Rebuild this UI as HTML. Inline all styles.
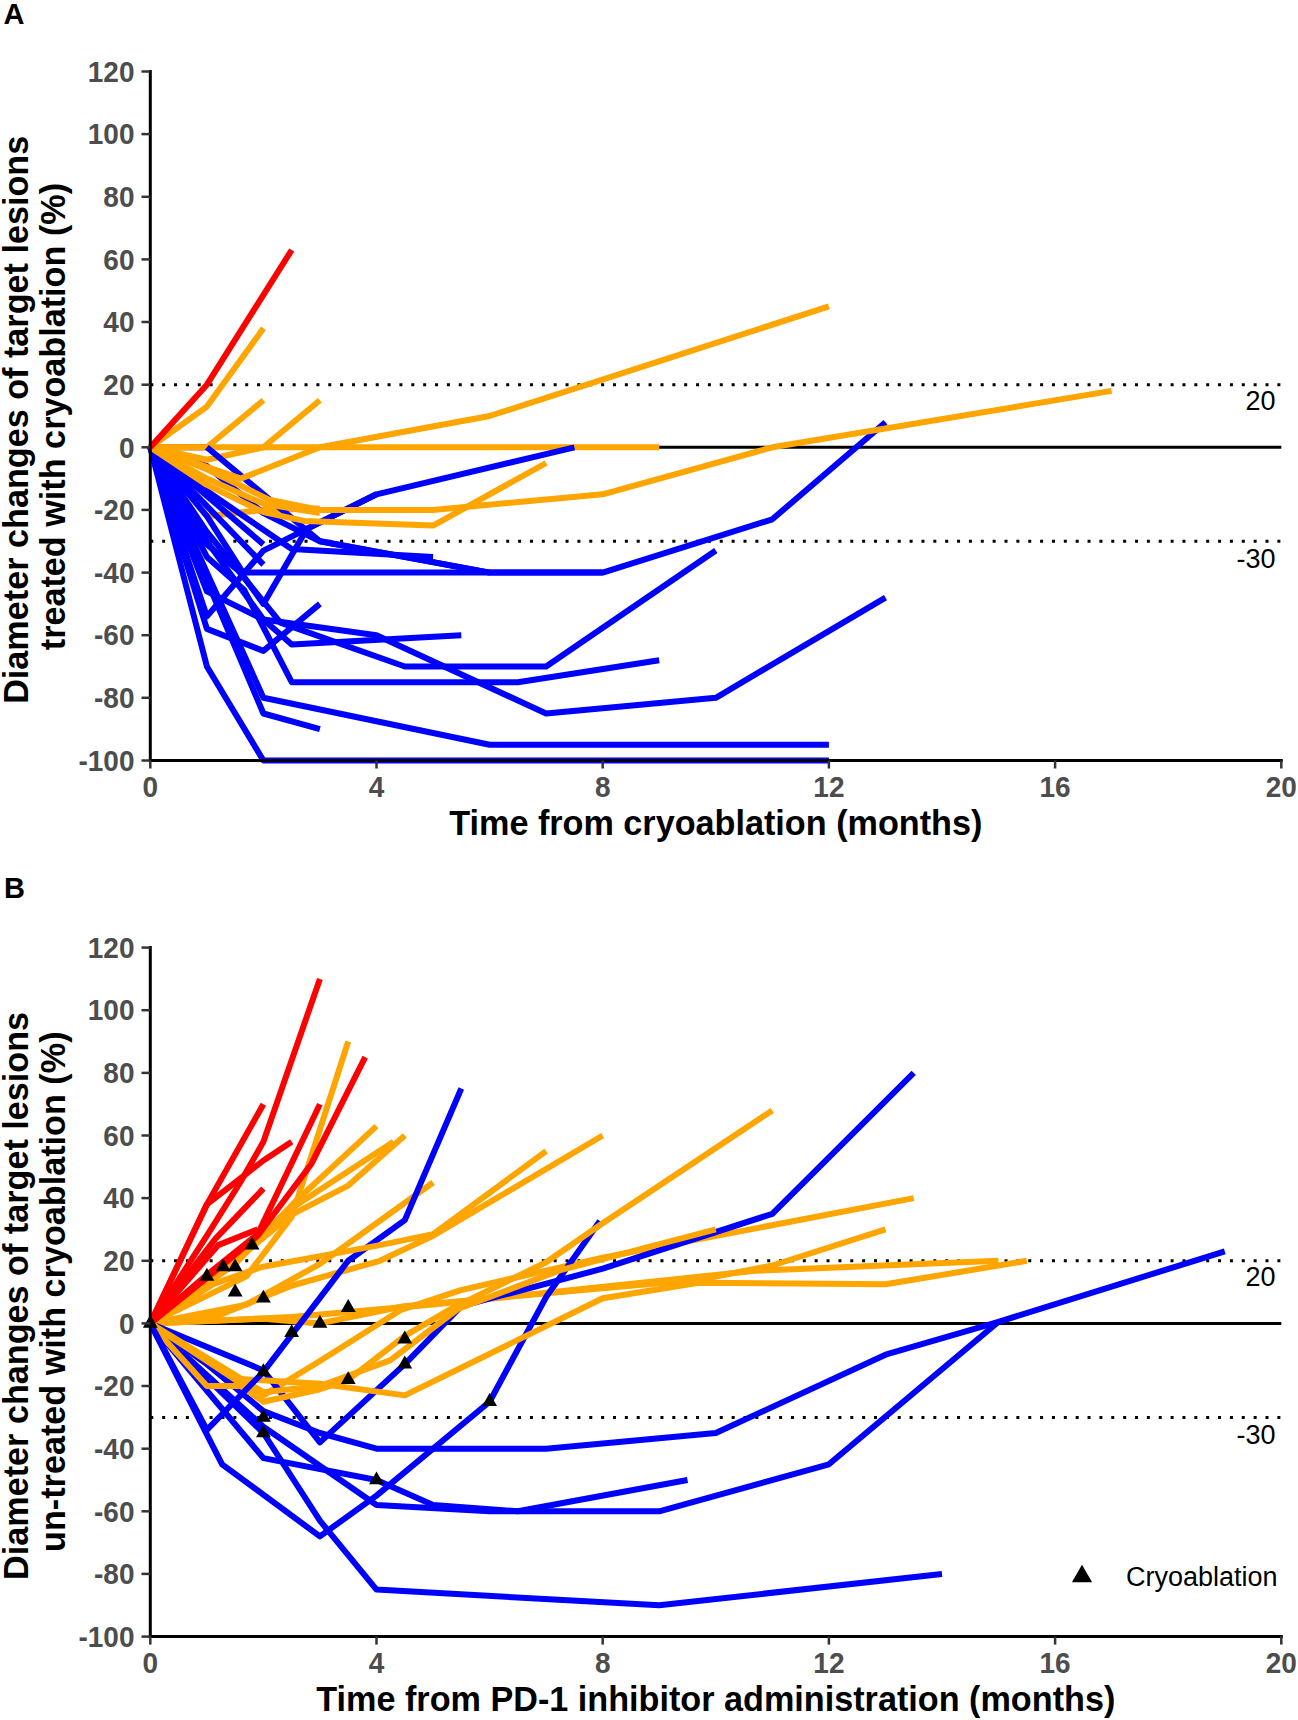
<!DOCTYPE html>
<html><head><meta charset="utf-8"><style>
html,body{margin:0;padding:0;background:#fff;}
svg{display:block;}
text{font-family:"Liberation Sans",sans-serif;}
.tk{font-size:28px;font-weight:bold;fill:#4D4D4D;}
.rl{font-size:27px;fill:#000;}
.ti{font-size:34.2px;font-weight:bold;fill:#000;}
.pl{font-size:29px;font-weight:bold;fill:#000;}
#d path.tr{fill:#000;stroke:none;}
#d path:not(.tr){fill:none;stroke-width:6.0;stroke-linecap:butt;stroke-linejoin:round;}
</style></head><body>
<svg width="1298" height="1720" viewBox="0 0 1298 1720">
<rect width="1298" height="1720" fill="#fff"/>
<g id="d">
<text x="3.5" y="24.2" class="pl">A</text>
<text x="4" y="897.8" class="pl">B</text>
<line x1="150.3" y1="447.3" x2="1281.3" y2="447.3" stroke="#000" stroke-width="3"/>
<line x1="150.3" y1="384.7" x2="1281.3" y2="384.7" stroke="#000" stroke-width="3" stroke-dasharray="3 8.864"/>
<line x1="150.3" y1="541.3" x2="1281.3" y2="541.3" stroke="#000" stroke-width="3" stroke-dasharray="3 8.864"/>
<path d="M150.3 447.3 L206.9 447.3" stroke="#0000FF"/>
<path d="M150.3 447.3 L659.2 447.3" stroke="#FFA500"/>
<path d="M150.3 447.3 L206.9 406.6 L263.4 328.3" stroke="#FFA500"/>
<path d="M150.3 447.3 L206.9 447.3 L263.4 400.3" stroke="#FFA500"/>
<path d="M150.3 447.3 L206.9 516.2 L263.4 509.9 L319.9 508.4" stroke="#FFA500"/>
<path d="M150.3 447.3 L206.9 466.1 L263.4 513.1 L319.9 541.3 L489.6 572.6" stroke="#0000FF"/>
<path d="M150.3 447.3 L206.9 459.8 L263.4 447.3 L319.9 400.3" stroke="#FFA500"/>
<path d="M206.9 447.3 L319.9 541.3 L489.6 572.6 L602.7 572.6" stroke="#0000FF"/>
<path d="M150.3 447.3 L206.9 666.5 L263.4 760.5 L828.9 760.5" stroke="#0000FF"/>
<path d="M150.3 447.3 L263.4 697.8 L489.6 744.8 L828.9 744.8" stroke="#0000FF"/>
<path d="M150.3 447.3 L263.4 713.5 L319.9 729.2" stroke="#0000FF"/>
<path d="M150.3 447.3 L206.9 628.9 L263.4 650.9 L319.9 603.9" stroke="#0000FF"/>
<path d="M150.3 447.3 L206.9 616.4 L263.4 550.6 L376.5 494.3 L574.4 447.3" stroke="#0000FF"/>
<path d="M150.3 447.3 L206.9 544.4 L240.8 572.6 L263.4 603.9 L306.9 528.7 L376.5 494.3" stroke="#0000FF"/>
<path d="M150.3 447.3 L206.9 516.2 L243.0 572.6 L602.7 572.6 L772.3 519.3 L885.5 422.2" stroke="#0000FF"/>
<path d="M150.3 447.3 L206.9 491.1 L291.7 549.1 L433.1 556.9" stroke="#0000FF"/>
<path d="M150.3 447.3 L263.4 544.4" stroke="#0000FF"/>
<path d="M150.3 447.3 L263.4 564.7" stroke="#0000FF"/>
<path d="M150.3 447.3 L206.9 591.4 L263.4 619.5 L376.5 635.2 L546.1 713.5 L715.8 697.8 L885.5 597.6" stroke="#0000FF"/>
<path d="M150.3 447.3 L206.9 531.9 L280.4 622.7 L404.8 666.5 L546.1 666.5 L715.8 550.6" stroke="#0000FF"/>
<path d="M150.3 447.3 L206.9 541.3 L263.4 619.5 L291.7 644.6 L461.3 635.2" stroke="#0000FF"/>
<path d="M150.3 447.3 L206.9 556.9 L244.2 590.1 L291.7 682.2 L517.9 682.2 L659.2 660.3" stroke="#0000FF"/>
<path d="M150.3 447.3 L240.8 478.6 L319.9 447.3 L489.6 416.0 L828.9 306.4" stroke="#FFA500"/>
<path d="M150.3 447.3 L206.9 469.2 L269.1 499.6 L319.9 509.9 L433.1 509.9 L602.7 494.3 L772.3 447.3 L1111.6 390.9" stroke="#FFA500"/>
<path d="M150.3 447.3 L206.9 478.6 L263.4 503.7 L319.9 513.1" stroke="#FFA500"/>
<path d="M150.3 447.3 L206.9 484.9 L263.4 512.1 L304.1 520.9 L433.1 525.6 L546.1 463.0" stroke="#FFA500"/>
<path d="M150.3 447.3 L206.9 384.7 L291.7 250.0" stroke="#FF0000"/>
<line x1="150.3" y1="70.0" x2="150.3" y2="762.0" stroke="#000" stroke-width="3"/>
<line x1="148.8" y1="760.5" x2="1282.8" y2="760.5" stroke="#000" stroke-width="3"/>
<line x1="141.5" y1="760.5" x2="150.3" y2="760.5" stroke="#333" stroke-width="2.5"/>
<text transform="translate(134.5 770.7) scale(1 1.05)" class="tk" text-anchor="end">-100</text>
<line x1="141.5" y1="697.8" x2="150.3" y2="697.8" stroke="#333" stroke-width="2.5"/>
<text transform="translate(134.5 708.0) scale(1 1.05)" class="tk" text-anchor="end">-80</text>
<line x1="141.5" y1="635.2" x2="150.3" y2="635.2" stroke="#333" stroke-width="2.5"/>
<text transform="translate(134.5 645.4) scale(1 1.05)" class="tk" text-anchor="end">-60</text>
<line x1="141.5" y1="572.6" x2="150.3" y2="572.6" stroke="#333" stroke-width="2.5"/>
<text transform="translate(134.5 582.8) scale(1 1.05)" class="tk" text-anchor="end">-40</text>
<line x1="141.5" y1="509.9" x2="150.3" y2="509.9" stroke="#333" stroke-width="2.5"/>
<text transform="translate(134.5 520.1) scale(1 1.05)" class="tk" text-anchor="end">-20</text>
<line x1="141.5" y1="447.3" x2="150.3" y2="447.3" stroke="#333" stroke-width="2.5"/>
<text transform="translate(134.5 457.5) scale(1 1.05)" class="tk" text-anchor="end">0</text>
<line x1="141.5" y1="384.7" x2="150.3" y2="384.7" stroke="#333" stroke-width="2.5"/>
<text transform="translate(134.5 394.9) scale(1 1.05)" class="tk" text-anchor="end">20</text>
<line x1="141.5" y1="322.0" x2="150.3" y2="322.0" stroke="#333" stroke-width="2.5"/>
<text transform="translate(134.5 332.2) scale(1 1.05)" class="tk" text-anchor="end">40</text>
<line x1="141.5" y1="259.4" x2="150.3" y2="259.4" stroke="#333" stroke-width="2.5"/>
<text transform="translate(134.5 269.6) scale(1 1.05)" class="tk" text-anchor="end">60</text>
<line x1="141.5" y1="196.8" x2="150.3" y2="196.8" stroke="#333" stroke-width="2.5"/>
<text transform="translate(134.5 207.0) scale(1 1.05)" class="tk" text-anchor="end">80</text>
<line x1="141.5" y1="134.1" x2="150.3" y2="134.1" stroke="#333" stroke-width="2.5"/>
<text transform="translate(134.5 144.3) scale(1 1.05)" class="tk" text-anchor="end">100</text>
<line x1="141.5" y1="71.5" x2="150.3" y2="71.5" stroke="#333" stroke-width="2.5"/>
<text transform="translate(134.5 81.7) scale(1 1.05)" class="tk" text-anchor="end">120</text>
<line x1="150.3" y1="760.5" x2="150.3" y2="768.5" stroke="#333" stroke-width="2.5"/>
<text transform="translate(150.3 796.5) scale(1 1.05)" class="tk" text-anchor="middle">0</text>
<line x1="376.5" y1="760.5" x2="376.5" y2="768.5" stroke="#333" stroke-width="2.5"/>
<text transform="translate(376.5 796.5) scale(1 1.05)" class="tk" text-anchor="middle">4</text>
<line x1="602.7" y1="760.5" x2="602.7" y2="768.5" stroke="#333" stroke-width="2.5"/>
<text transform="translate(602.7 796.5) scale(1 1.05)" class="tk" text-anchor="middle">8</text>
<line x1="828.9" y1="760.5" x2="828.9" y2="768.5" stroke="#333" stroke-width="2.5"/>
<text transform="translate(828.9 796.5) scale(1 1.05)" class="tk" text-anchor="middle">12</text>
<line x1="1055.1" y1="760.5" x2="1055.1" y2="768.5" stroke="#333" stroke-width="2.5"/>
<text transform="translate(1055.1 796.5) scale(1 1.05)" class="tk" text-anchor="middle">16</text>
<line x1="1281.3" y1="760.5" x2="1281.3" y2="768.5" stroke="#333" stroke-width="2.5"/>
<text transform="translate(1281.3 796.5) scale(1 1.05)" class="tk" text-anchor="middle">20</text>
<text x="1275.5" y="409.9" class="rl" text-anchor="end">20</text>
<text x="1275.5" y="567.5" class="rl" text-anchor="end">-30</text>
<text x="715.8" y="835.1" class="ti" text-anchor="middle">Time from cryoablation (months)</text>
<text transform="translate(28 419.8) rotate(-90)" class="ti" text-anchor="middle">Diameter changes of target lesions</text>
<text transform="translate(65 416.6) rotate(-90)" class="ti" text-anchor="middle">treated with cryoablation (%)</text>
<line x1="150.3" y1="1323.4" x2="1281.3" y2="1323.4" stroke="#000" stroke-width="3"/>
<line x1="150.3" y1="1260.8" x2="1281.3" y2="1260.8" stroke="#000" stroke-width="3" stroke-dasharray="3 8.864"/>
<line x1="150.3" y1="1417.4" x2="1281.3" y2="1417.4" stroke="#000" stroke-width="3" stroke-dasharray="3 8.864"/>
<path d="M150.3 1323.4 L219.9 1314.9 L292.2 1285.5 L379.9 1260.8 L433.1 1235.7 L602.7 1135.5" stroke="#FFA500"/>
<path d="M150.3 1323.4 L263.4 1318.7 L319.9 1323.4 L403.6 1306.2 L700.0 1279.6 L772.3 1265.5 L885.5 1229.4" stroke="#FFA500"/>
<path d="M150.3 1323.4 L223.8 1376.6 L263.4 1395.4 L319.9 1361.0 L400.3 1310.2 L460.8 1290.2 L602.7 1257.6 L913.7 1198.1" stroke="#FFA500"/>
<path d="M150.3 1323.4 L291.7 1317.1 L433.1 1304.6 L755.4 1270.8 L998.5 1260.8" stroke="#FFA500"/>
<path d="M150.3 1323.4 L246.4 1304.6 L319.9 1263.9 L433.1 1182.5" stroke="#FFA500"/>
<path d="M150.3 1323.4 L222.1 1464.3 L319.9 1536.4 L376.5 1495.6 L489.6 1401.7 L546.1 1297.1 L599.9 1221.0" stroke="#0000FF"/>
<path d="M150.3 1323.4 L263.4 1370.4 L319.9 1442.4 L404.8 1364.1 L461.3 1306.2 L602.7 1268.6 L772.3 1213.8 L913.7 1072.9" stroke="#0000FF"/>
<path d="M150.3 1323.4 L206.9 1364.1 L263.4 1411.1 L319.9 1433.0 L376.5 1448.7 L546.1 1448.7 L715.8 1433.0 L885.5 1354.7 L998.5 1321.8 L1224.8 1251.4" stroke="#0000FF"/>
<path d="M150.3 1323.4 L263.4 1458.1 L376.5 1480.0 L433.1 1505.0 L517.9 1511.3 L687.5 1480.0" stroke="#0000FF"/>
<path d="M150.3 1323.4 L263.4 1426.7 L376.5 1505.0 L489.6 1511.3 L659.2 1511.3 L828.9 1464.3 L998.5 1321.8" stroke="#0000FF"/>
<path d="M150.3 1323.4 L263.4 1433.0 L319.9 1520.7 L376.5 1589.6 L659.2 1605.3 L942.0 1573.9" stroke="#0000FF"/>
<path d="M150.3 1323.4 L233.4 1378.5 L319.9 1383.8 L404.8 1395.4 L602.7 1298.3 L698.8 1282.7 L885.5 1284.3 L1026.8 1260.8" stroke="#FFA500"/>
<path d="M150.3 1323.4 L206.9 1386.0 L240.8 1386.0 L263.4 1401.7 L319.9 1389.2 L348.2 1379.8 L404.8 1335.9 L452.3 1308.1 L546.1 1262.3 L602.7 1223.2 L772.3 1110.4" stroke="#FFA500"/>
<path d="M150.3 1323.4 L263.4 1392.3 L319.9 1386.0 L390.1 1360.4 L457.9 1309.0 L560.3 1270.2 L715.8 1229.4" stroke="#FFA500"/>
<path d="M150.3 1323.4 L206.9 1429.9 L263.4 1371.9 L348.2 1260.8 L404.8 1220.1 L461.3 1088.5" stroke="#0000FF"/>
<path d="M150.3 1323.4 L213.6 1283.9 L261.7 1267.0 L379.9 1245.1 L433.1 1234.1 L546.1 1151.2" stroke="#FFA500"/>
<path d="M150.3 1323.4 L235.1 1260.8 L297.3 1204.4 L393.5 1141.8" stroke="#FFA500"/>
<path d="M150.3 1323.4 L235.1 1260.8 L291.7 1214.7 L348.2 1185.6 L404.8 1135.5" stroke="#FFA500"/>
<path d="M150.3 1323.4 L235.1 1263.9 L295.6 1201.3 L376.5 1126.1" stroke="#FFA500"/>
<path d="M150.3 1323.4 L246.4 1276.4 L291.7 1216.9 L348.2 1041.5" stroke="#FFA500"/>
<path d="M150.3 1323.4 L206.9 1235.7 L240.2 1182.5 L263.4 1141.8 L319.9 978.9" stroke="#FF0000"/>
<path d="M150.3 1323.4 L206.9 1204.4 L263.4 1104.2" stroke="#FF0000"/>
<path d="M150.3 1323.4 L206.9 1204.4 L263.4 1160.5 L291.7 1141.8" stroke="#FF0000"/>
<path d="M150.3 1323.4 L215.3 1238.8 L263.4 1188.7" stroke="#FF0000"/>
<path d="M150.3 1323.4 L218.2 1245.1 L257.7 1229.4" stroke="#FF0000"/>
<path d="M150.3 1323.4 L206.9 1274.9 L257.7 1234.1 L319.9 1104.2" stroke="#FF0000"/>
<path d="M150.3 1323.4 L206.9 1278.0 L257.7 1235.7 L311.5 1163.7 L365.2 1057.2" stroke="#FF0000"/>
<path class="tr" d="M150.3 1314.8 L157.7 1327.7 L142.9 1327.7 Z"/>
<path class="tr" d="M206.9 1267.8 L214.3 1280.7 L199.4 1280.7 Z"/>
<path class="tr" d="M223.2 1258.4 L230.7 1271.3 L215.8 1271.3 Z"/>
<path class="tr" d="M235.1 1258.4 L242.6 1271.3 L227.7 1271.3 Z"/>
<path class="tr" d="M252.1 1236.5 L259.5 1249.4 L244.6 1249.4 Z"/>
<path class="tr" d="M235.1 1283.5 L242.6 1296.4 L227.7 1296.4 Z"/>
<path class="tr" d="M263.4 1289.7 L270.8 1302.6 L256.0 1302.6 Z"/>
<path class="tr" d="M291.7 1324.2 L299.1 1337.1 L284.2 1337.1 Z"/>
<path class="tr" d="M319.9 1314.8 L327.4 1327.7 L312.5 1327.7 Z"/>
<path class="tr" d="M348.2 1299.1 L355.7 1312.0 L340.8 1312.0 Z"/>
<path class="tr" d="M404.8 1330.5 L412.2 1343.4 L397.3 1343.4 Z"/>
<path class="tr" d="M404.8 1355.5 L412.2 1368.4 L397.3 1368.4 Z"/>
<path class="tr" d="M348.2 1371.2 L355.7 1384.1 L340.8 1384.1 Z"/>
<path class="tr" d="M263.4 1363.3 L270.8 1376.2 L256.0 1376.2 Z"/>
<path class="tr" d="M263.4 1408.8 L270.8 1421.7 L256.0 1421.7 Z"/>
<path class="tr" d="M263.4 1424.4 L270.8 1437.3 L256.0 1437.3 Z"/>
<path class="tr" d="M376.5 1471.4 L383.9 1484.3 L369.1 1484.3 Z"/>
<path class="tr" d="M489.6 1393.1 L497.0 1406.0 L482.2 1406.0 Z"/>
<line x1="150.3" y1="946.1" x2="150.3" y2="1638.1" stroke="#000" stroke-width="3"/>
<line x1="148.8" y1="1636.6" x2="1282.8" y2="1636.6" stroke="#000" stroke-width="3"/>
<line x1="141.5" y1="1636.6" x2="150.3" y2="1636.6" stroke="#333" stroke-width="2.5"/>
<text transform="translate(134.5 1646.8) scale(1 1.05)" class="tk" text-anchor="end">-100</text>
<line x1="141.5" y1="1573.9" x2="150.3" y2="1573.9" stroke="#333" stroke-width="2.5"/>
<text transform="translate(134.5 1584.1) scale(1 1.05)" class="tk" text-anchor="end">-80</text>
<line x1="141.5" y1="1511.3" x2="150.3" y2="1511.3" stroke="#333" stroke-width="2.5"/>
<text transform="translate(134.5 1521.5) scale(1 1.05)" class="tk" text-anchor="end">-60</text>
<line x1="141.5" y1="1448.7" x2="150.3" y2="1448.7" stroke="#333" stroke-width="2.5"/>
<text transform="translate(134.5 1458.9) scale(1 1.05)" class="tk" text-anchor="end">-40</text>
<line x1="141.5" y1="1386.0" x2="150.3" y2="1386.0" stroke="#333" stroke-width="2.5"/>
<text transform="translate(134.5 1396.2) scale(1 1.05)" class="tk" text-anchor="end">-20</text>
<line x1="141.5" y1="1323.4" x2="150.3" y2="1323.4" stroke="#333" stroke-width="2.5"/>
<text transform="translate(134.5 1333.6) scale(1 1.05)" class="tk" text-anchor="end">0</text>
<line x1="141.5" y1="1260.8" x2="150.3" y2="1260.8" stroke="#333" stroke-width="2.5"/>
<text transform="translate(134.5 1271.0) scale(1 1.05)" class="tk" text-anchor="end">20</text>
<line x1="141.5" y1="1198.1" x2="150.3" y2="1198.1" stroke="#333" stroke-width="2.5"/>
<text transform="translate(134.5 1208.3) scale(1 1.05)" class="tk" text-anchor="end">40</text>
<line x1="141.5" y1="1135.5" x2="150.3" y2="1135.5" stroke="#333" stroke-width="2.5"/>
<text transform="translate(134.5 1145.7) scale(1 1.05)" class="tk" text-anchor="end">60</text>
<line x1="141.5" y1="1072.9" x2="150.3" y2="1072.9" stroke="#333" stroke-width="2.5"/>
<text transform="translate(134.5 1083.1) scale(1 1.05)" class="tk" text-anchor="end">80</text>
<line x1="141.5" y1="1010.2" x2="150.3" y2="1010.2" stroke="#333" stroke-width="2.5"/>
<text transform="translate(134.5 1020.4) scale(1 1.05)" class="tk" text-anchor="end">100</text>
<line x1="141.5" y1="947.6" x2="150.3" y2="947.6" stroke="#333" stroke-width="2.5"/>
<text transform="translate(134.5 957.8) scale(1 1.05)" class="tk" text-anchor="end">120</text>
<line x1="150.3" y1="1636.6" x2="150.3" y2="1644.6" stroke="#333" stroke-width="2.5"/>
<text transform="translate(150.3 1672.6) scale(1 1.05)" class="tk" text-anchor="middle">0</text>
<line x1="376.5" y1="1636.6" x2="376.5" y2="1644.6" stroke="#333" stroke-width="2.5"/>
<text transform="translate(376.5 1672.6) scale(1 1.05)" class="tk" text-anchor="middle">4</text>
<line x1="602.7" y1="1636.6" x2="602.7" y2="1644.6" stroke="#333" stroke-width="2.5"/>
<text transform="translate(602.7 1672.6) scale(1 1.05)" class="tk" text-anchor="middle">8</text>
<line x1="828.9" y1="1636.6" x2="828.9" y2="1644.6" stroke="#333" stroke-width="2.5"/>
<text transform="translate(828.9 1672.6) scale(1 1.05)" class="tk" text-anchor="middle">12</text>
<line x1="1055.1" y1="1636.6" x2="1055.1" y2="1644.6" stroke="#333" stroke-width="2.5"/>
<text transform="translate(1055.1 1672.6) scale(1 1.05)" class="tk" text-anchor="middle">16</text>
<line x1="1281.3" y1="1636.6" x2="1281.3" y2="1644.6" stroke="#333" stroke-width="2.5"/>
<text transform="translate(1281.3 1672.6) scale(1 1.05)" class="tk" text-anchor="middle">20</text>
<text x="1275.5" y="1286.0" class="rl" text-anchor="end">20</text>
<text x="1275.5" y="1443.6" class="rl" text-anchor="end">-30</text>
<text x="715.8" y="1711.2" class="ti" text-anchor="middle">Time from PD-1 inhibitor administration (months)</text>
<text transform="translate(28 1295.9) rotate(-90)" class="ti" text-anchor="middle">Diameter changes of target lesions</text>
<text transform="translate(65 1291.7) rotate(-90)" class="ti" text-anchor="middle">un-treated with cryoablation (%)</text>
<path class="tr" d="M1082.0 1564.7 L1092.1 1582.2 L1071.9 1582.2 Z"/>
<text x="1126" y="1586.1" class="rl">Cryoablation</text>
</g>
</svg>
</body></html>
